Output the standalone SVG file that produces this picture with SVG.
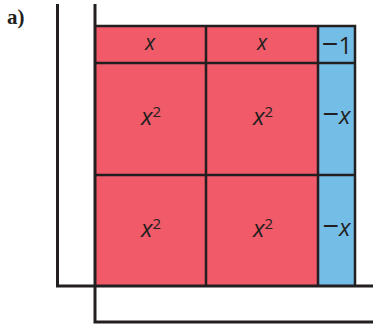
<svg xmlns="http://www.w3.org/2000/svg" width="373" height="326" viewBox="0 0 373 326">
<style>
.red{fill:#F05A69}
.blue{fill:#73BDE7}
.grid{stroke:#231F20;stroke-width:2.5;fill:none}
.axis{stroke:#231F20;stroke-width:3;fill:none}
.t{font-family:"Open Sans","Liberation Sans",sans-serif;font-size:24px;fill:#231F20;text-anchor:middle}
.top{font-size:21px}
.i{font-style:italic}
.s{font-size:15px}
.m{font-size:29px}
.lbl{font-family:"Liberation Serif",serif;font-weight:bold;font-size:21px;fill:#231F20}
</style>
<text class="lbl" x="7" y="24">a)</text>
<g id="tiles">
<g id="x1"><rect class="red" x="95" y="26" width="111" height="37"/><text class="t top i" x="150" y="50">x</text></g>
<g id="x2"><rect class="red" x="206" y="26" width="112" height="37"/><text class="t top i" x="262" y="50">x</text></g>
<g id="m1"><rect class="blue" x="318" y="26" width="37" height="37"/><text class="t" x="337" y="54"><tspan class="m">−</tspan>1</text></g>
<g id="sq1"><rect class="red" x="95" y="63" width="111" height="112"/><text class="t" x="151" y="125"><tspan class="i">x</tspan><tspan class="s" dy="-8">2</tspan></text></g>
<g id="sq2"><rect class="red" x="206" y="63" width="112" height="112"/><text class="t" x="263" y="125"><tspan class="i">x</tspan><tspan class="s" dy="-8">2</tspan></text></g>
<g id="mx1"><rect class="blue" x="318" y="63" width="37" height="112"/><text class="t" x="336.5" y="124"><tspan class="m">−</tspan><tspan class="i">x</tspan></text></g>
<g id="sq3"><rect class="red" x="95" y="175" width="111" height="111"/><text class="t" x="151" y="237"><tspan class="i">x</tspan><tspan class="s" dy="-8">2</tspan></text></g>
<g id="sq4"><rect class="red" x="206" y="175" width="112" height="111"/><text class="t" x="263" y="237"><tspan class="i">x</tspan><tspan class="s" dy="-8">2</tspan></text></g>
<g id="mx2"><rect class="blue" x="318" y="175" width="37" height="111"/><text class="t" x="336.5" y="236"><tspan class="m">−</tspan><tspan class="i">x</tspan></text></g>
</g>
<g id="connectors">
<path class="grid" d="M95 26H355V286M95 63H355M95 175H355M206 26V286M318 26V286"/>
<path class="axis" d="M57.5 4V286H373"/>
<path class="axis" d="M95 4V322H373"/>
</g>
</svg>
